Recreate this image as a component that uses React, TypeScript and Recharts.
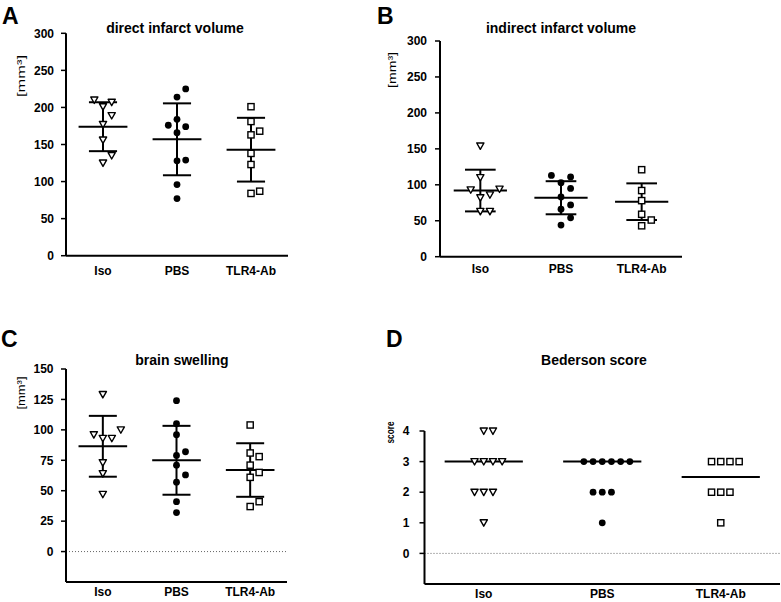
import React from 'react';
import { ScatterChart, Scatter, XAxis, YAxis, ReferenceLine } from 'recharts';

const categories = ['Iso', 'PBS', 'TLR4-Ab'];

// A - direct infarct volume [mm³]
const directIso = [207, 210, 201, 189, 177, 156, 135, 125];
const directPbs = [225, 214, 184, 174, 176, 166, 128, 129, 96, 77];
const directTlr4 = [201, 181, 168, 163, 138, 123, 84, 87];
const directMean = [174, 157, 143];
const directSd = [33, 48.5, 43];

// B - indirect infarct volume [mm³]
const indirectIso = [154, 110, 94, 93, 86, 82, 63, 63];
const indirectPbs = [113, 111, 103, 95, 83, 72, 66, 54, 44];
const indirectTlr4 = [121, 92, 78, 59, 51, 43];
const indirectMean = [92, 82, 76.5];
const indirectSd = [29, 23, 25.5];

// C - brain swelling [mm³]
const swellIso = [129, 100, 93, 93, 96, 73, 64, 47];
const swellPbs = [124, 105, 96, 82, 79, 71, 63, 57, 41, 32];
const swellTlr4 = [104, 81, 78, 71, 65, 61, 41, 37];
const swellMean = [86.5, 75, 67];
const swellSd = [25, 28.3, 22];

// D - Bederson score
const scoreIso = [4, 4, 3, 3, 3, 3, 2, 2, 2, 1];
const scorePbs = [3, 3, 3, 3, 3, 3, 2, 2, 2, 1];
const scoreTlr4 = [3, 3, 3, 3, 2, 2, 2, 1];
const scoreMedian = [3, 3, 2.5];

const volumeTicks = [0, 50, 100, 150, 200, 250, 300];
const swellTicks = [0, 25, 50, 75, 100, 125, 150];
const scoreTicks = [0, 1, 2, 3, 4];

const FONT = 'Liberation Sans, Arial, sans-serif';
const SHAPES = ['triangle', 'dot', 'square'];

// simple beeswarm: spread points that would overlap into side-by-side slots
function beeswarm(values: number[], pxPerUnit: number, gap: number) {
  const order = values.map((_, i) => i).sort((a, b) => values[a] - values[b]);
  const slots = new Array(values.length).fill(0);
  const placed: { v: number; s: number }[] = [];
  order.forEach((i) => {
    const v = values[i];
    for (let k = 0; k < 20; k++) {
      const s = k === 0 ? 0 : k % 2 ? (k + 1) / 2 : -k / 2;
      const hit = placed.some((p) => p.s === s && Math.abs(p.v - v) * pxPerUnit < gap);
      if (!hit) {
        slots[i] = s;
        placed.push({ v, s });
        break;
      }
    }
  });
  return slots;
}

function makeShape(kind: string, slotPx: number) {
  return (props: any) => {
    const { cx, cy, payload } = props;
    if (cx == null || cy == null) return <g />;
    const x = cx + (payload?.slot ?? 0) * slotPx;
    if (kind === 'triangle')
      return (
        <path
          d={`M${x - 3.6},${cy - 3} L${x + 3.6},${cy - 3} L${x},${cy + 3.4} Z`}
          fill="#fff"
          stroke="#000"
          strokeWidth={1.4}
          strokeLinejoin="round"
        />
      );
    if (kind === 'dot') return <circle cx={x} cy={cy} r={3.4} fill="#000" />;
    return <rect x={x - 3.1} y={cy - 3.1} width={6.2} height={6.2} fill="#fff" stroke="#000" strokeWidth={1.4} />;
  };
}

type Box = { left: number; top: number; width: number; height: number };
type Plot = { x0: number; x1: number; y0: number; y1: number };

interface PanelProps {
  box: Box;
  plot: Plot;
  domain: [number, number];
  ticks: number[];
  groups: number[][];
  centers: number[];
  sds?: number[];
  slotPx: number;
  yWidth: number;
  yTickMargin: number;
  xTickMargin: number;
  zeroLine?: boolean;
}

const tickStyle = { fill: '#000', fontSize: 12, fontWeight: 'bold', fontFamily: FONT };
const X_H = 16;

function Panel({ box, plot, domain, ticks, groups, centers, sds, slotPx, yWidth, yTickMargin, xTickMargin, zeroLine }: PanelProps) {
  const margin = {
    top: plot.y0 - box.top,
    left: plot.x0 - box.left - yWidth,
    right: box.left + box.width - plot.x1,
    bottom: box.top + box.height - plot.y1 - X_H,
  };
  const pxPerUnit = (plot.y1 - plot.y0) / (domain[1] - domain[0]);
  const series = groups.map((vals, gi) => {
    const slots = beeswarm(vals, pxPerUnit, 9.5);
    return vals.map((v, i) => ({ x: gi + 1, y: v, slot: slots[i] }));
  });
  const lines: { x1: number; x2: number; y1: number; y2: number; w: number }[] = [];
  centers.forEach((m, i) => {
    const c = i + 1;
    lines.push({ x1: c - 0.33, x2: c + 0.33, y1: m, y2: m, w: 2 });
    if (sds) {
      const sd = sds[i];
      lines.push({ x1: c, x2: c, y1: m - sd, y2: m + sd, w: 2 });
      lines.push({ x1: c - 0.19, x2: c + 0.19, y1: m + sd, y2: m + sd, w: 2 });
      lines.push({ x1: c - 0.19, x2: c + 0.19, y1: m - sd, y2: m - sd, w: 2 });
    }
  });
  return (
    <div style={{ position: 'absolute', left: box.left, top: box.top }}>
      <ScatterChart width={box.width} height={box.height} margin={margin}>
        <XAxis
          type="number"
          dataKey="x"
          domain={[0.5, 3.5]}
          ticks={[1, 2, 3]}
          interval={0}
          tickFormatter={(v: number) => categories[v - 1]}
          tickLine={false}
          tickSize={0}
          tickMargin={xTickMargin}
          height={X_H}
          axisLine={{ stroke: '#000', strokeWidth: 2 }}
          tick={tickStyle}
        />
        <YAxis
          type="number"
          dataKey="y"
          domain={domain}
          ticks={ticks}
          interval={0}
          width={yWidth}
          tickSize={5}
          tickMargin={yTickMargin}
          axisLine={{ stroke: '#000', strokeWidth: 2 }}
          tickLine={{ stroke: '#000', strokeWidth: 1.5 }}
          tick={tickStyle}
        />
        {zeroLine && <ReferenceLine y={0} stroke="#666" strokeWidth={1} strokeDasharray="1 2" />}
        {series.map((data, gi) => (
          <Scatter
            key={categories[gi]}
            data={data}
            isAnimationActive={false}
            shape={makeShape(SHAPES[gi], slotPx)}
          />
        ))}
        {lines.map((l, i) => (
          <ReferenceLine
            key={i}
            segment={[
              { x: l.x1, y: l.y1 },
              { x: l.x2, y: l.y2 },
            ]}
            stroke="#000"
            strokeWidth={l.w}
          />
        ))}
      </ScatterChart>
    </div>
  );
}

function YLabel({ x, y, text, len }: { x: number; y: number; text: string; len: number }) {
  return (
    <text
      x={x}
      y={y}
      transform={`rotate(-90, ${x}, ${y})`}
      textAnchor="middle"
      dominantBaseline="central"
      fontSize={11}
      fontFamily={FONT}
      textLength={len}
      lengthAdjust="spacingAndGlyphs"
    >
      {text}
    </text>
  );
}

export default function App() {
  return (
    <div style={{ position: 'absolute', left: 0, top: 0, width: 781, height: 602, background: '#fff' }}>
      <Panel
        box={{ left: 0, top: 0, width: 390, height: 300 }}
        plot={{ x0: 66, x1: 288, y0: 33.3, y1: 255.7 }}
        domain={[0, 300]}
        ticks={volumeTicks}
        groups={[directIso, directPbs, directTlr4]}
        centers={directMean}
        sds={directSd}
        slotPx={8.7}
        yWidth={40}
        yTickMargin={7}
        xTickMargin={11}
      />
      <Panel
        box={{ left: 390, top: 0, width: 391, height: 300 }}
        plot={{ x0: 440, x1: 682, y0: 41, y1: 256.7 }}
        domain={[0, 300]}
        ticks={volumeTicks}
        groups={[indirectIso, indirectPbs, indirectTlr4]}
        centers={indirectMean}
        sds={indirectSd}
        slotPx={9.6}
        yWidth={40}
        yTickMargin={8}
        xTickMargin={8}
      />
      <Panel
        box={{ left: 0, top: 300, width: 390, height: 302 }}
        plot={{ x0: 66, x1: 287, y0: 369, y1: 582 }}
        domain={[-25, 150]}
        ticks={swellTicks}
        groups={[swellIso, swellPbs, swellTlr4]}
        centers={swellMean}
        sds={swellSd}
        slotPx={9}
        yWidth={40}
        yTickMargin={7.5}
        xTickMargin={5}
        zeroLine
      />
      <Panel
        box={{ left: 390, top: 300, width: 391, height: 302 }}
        plot={{ x0: 424.5, x1: 780, y0: 431, y1: 584 }}
        domain={[-1, 4]}
        ticks={scoreTicks}
        groups={[scoreIso, scorePbs, scoreTlr4]}
        centers={scoreMedian}
        slotPx={9.2}
        yWidth={30}
        yTickMargin={10}
        xTickMargin={5}
        zeroLine
      />
      <svg width={781} height={602} style={{ position: 'absolute', left: 0, top: 0, pointerEvents: 'none' }}>
        <g fontFamily={FONT} fontWeight="bold" fill="#000">
          <text x={2} y={24} fontSize={23}>A</text>
          <text x={377} y={24} fontSize={23}>B</text>
          <text x={1} y={347} fontSize={23}>C</text>
          <text x={386} y={347} fontSize={23}>D</text>
          <text x={175} y={32.5} fontSize={14} textAnchor="middle">direct infarct volume</text>
          <text x={561} y={32.5} fontSize={14} textAnchor="middle">indirect infarct volume</text>
          <text x={182} y={365} fontSize={14} textAnchor="middle">brain swelling</text>
          <text x={594} y={365} fontSize={14} textAnchor="middle">Bederson score</text>
        </g>
        <YLabel x={21} y={76} text="[mm³]" len={42} />
        <YLabel x={392} y={70} text="[mm³]" len={36} />
        <YLabel x={21} y={393} text="[mm³]" len={33} />
        <g fontWeight="bold">
          <YLabel x={389.5} y={432.5} text="score" len={22} />
        </g>
      </svg>
    </div>
  );
}
